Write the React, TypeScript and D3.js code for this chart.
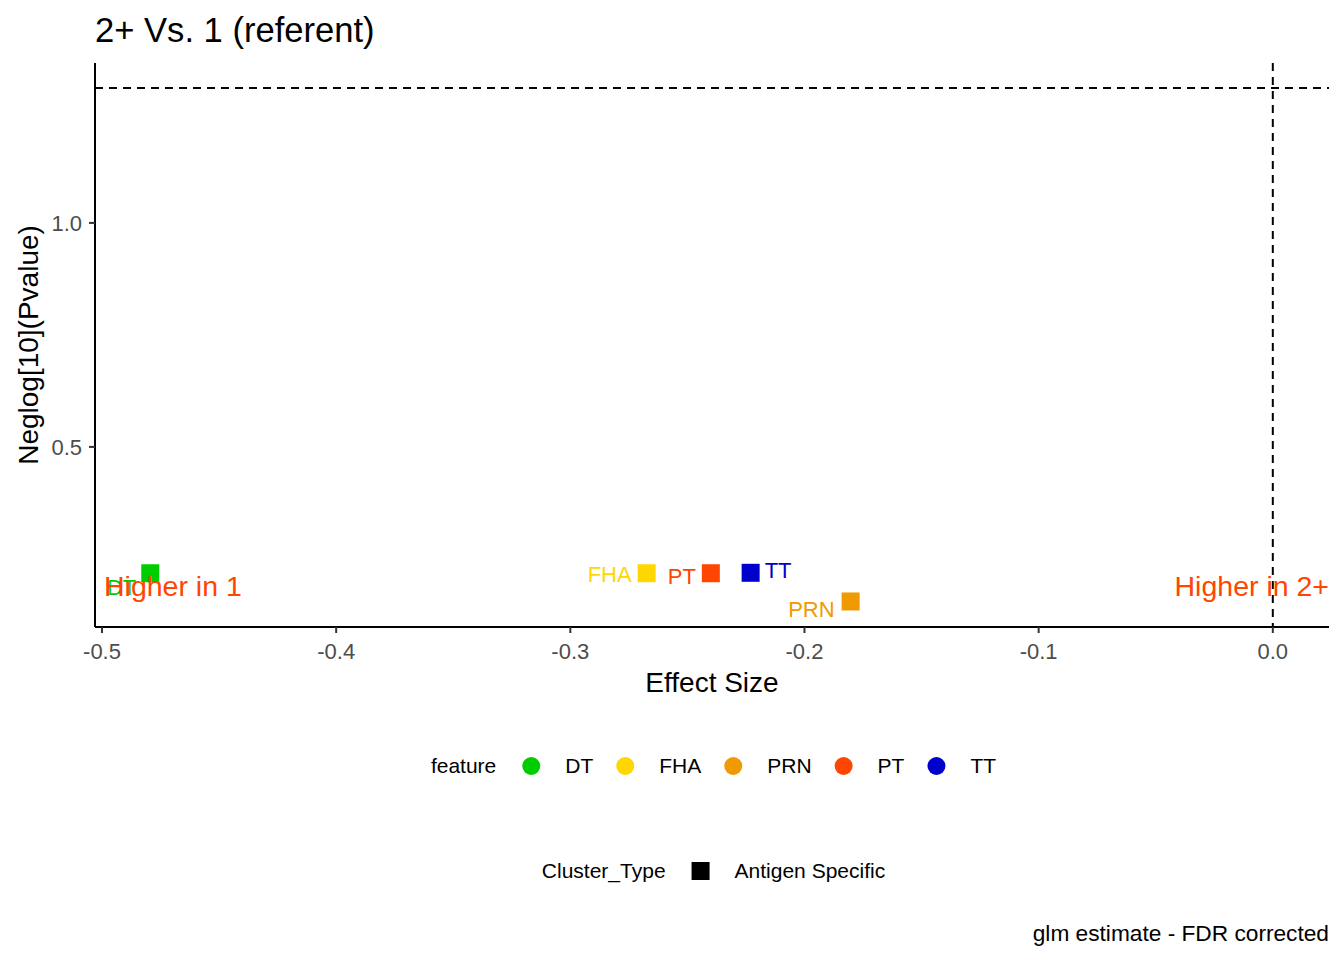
import { useEffect, useRef } from 'react';
import * as d3 from 'd3';

// chart values
const FEATURES = ['DT', 'FHA', 'PRN', 'PT', 'TT'];
const FEATURE_COLORS = ['#00CD00', '#FFD700', '#EE9A00', '#FF4500', '#0000CD'];
const EFFECT_SIZE = [-0.4794, -0.2674, -0.1803, -0.24, -0.223];
const NEGLOG_P = [0.218, 0.218, 0.155, 0.218, 0.219];
const CLUSTER_TYPES = ['Antigen Specific'];
const X_TICKS = [-0.5, -0.4, -0.3, -0.2, -0.1, 0.0];
const Y_TICKS = [0.5, 1.0];
const SIG_THRESHOLD = -Math.log10(0.05);

// repel-style label nudges (px) for each point label: [dx, dy, anchor]
const LABEL_NUDGE: [number, number, string][] = [
  [-14, 14, 'end'],
  [-15, 1, 'end'],
  [-16, 8, 'end'],
  [-15, 3, 'end'],
  [14, -2, 'start'],
];

const W = 1344;
const H = 960;
const FONT = '"Liberation Sans", Arial, sans-serif';

export default function App() {
  const svgRef = useRef<SVGSVGElement>(null);

  useEffect(() => {
    if (!svgRef.current) return;
    const svg = d3.select(svgRef.current);
    svg.selectAll('*').remove();

    const panel = { left: 95, right: 1329, top: 63, bottom: 627 };

    const x = d3.scaleLinear().domain([-0.503, 0.024]).range([panel.left, panel.right]);
    const y = d3.scaleLinear().domain([0.098, 1.357]).range([panel.bottom, panel.top]);

    // title
    svg
      .append('text')
      .attr('x', panel.left)
      .attr('y', 42)
      .style('font-size', '34.6px')
      .style('fill', '#000')
      .text('2+ Vs. 1 (referent)');

    // reference lines
    svg
      .append('line')
      .attr('x1', panel.left)
      .attr('x2', panel.right)
      .attr('y1', y(SIG_THRESHOLD))
      .attr('y2', y(SIG_THRESHOLD))
      .attr('stroke', '#000')
      .attr('stroke-width', 2)
      .attr('stroke-dasharray', '8,6');

    svg
      .append('line')
      .attr('x1', x(0))
      .attr('x2', x(0))
      .attr('y1', panel.top)
      .attr('y2', panel.bottom)
      .attr('stroke', '#000')
      .attr('stroke-width', 2)
      .attr('stroke-dasharray', '8,6');

    // x axis
    svg
      .append('line')
      .attr('x1', panel.left)
      .attr('x2', panel.right)
      .attr('y1', panel.bottom)
      .attr('y2', panel.bottom)
      .attr('stroke', '#000')
      .attr('stroke-width', 2);

    const xt = svg.append('g').selectAll('g').data(X_TICKS).enter().append('g');
    xt.append('line')
      .attr('x1', (d) => x(d))
      .attr('x2', (d) => x(d))
      .attr('y1', panel.bottom)
      .attr('y2', panel.bottom + 6)
      .attr('stroke', '#333')
      .attr('stroke-width', 2);
    xt.append('text')
      .attr('x', (d) => x(d))
      .attr('y', 659)
      .attr('text-anchor', 'middle')
      .style('font-size', '22px')
      .style('fill', '#4D4D4D')
      .text((d) => d3.format('.1f')(d).replace('−', '-'));

    svg
      .append('text')
      .attr('x', (panel.left + panel.right) / 2)
      .attr('y', 692)
      .attr('text-anchor', 'middle')
      .style('font-size', '28px')
      .style('fill', '#000')
      .text('Effect Size');

    // y axis
    svg
      .append('line')
      .attr('x1', panel.left)
      .attr('x2', panel.left)
      .attr('y1', panel.top)
      .attr('y2', panel.bottom)
      .attr('stroke', '#000')
      .attr('stroke-width', 2);

    const yt = svg.append('g').selectAll('g').data(Y_TICKS).enter().append('g');
    yt.append('line')
      .attr('x1', panel.left - 6)
      .attr('x2', panel.left)
      .attr('y1', (d) => y(d))
      .attr('y2', (d) => y(d))
      .attr('stroke', '#333')
      .attr('stroke-width', 2);
    yt.append('text')
      .attr('x', panel.left - 13)
      .attr('y', (d) => y(d))
      .attr('dy', '0.35em')
      .attr('text-anchor', 'end')
      .style('font-size', '22px')
      .style('fill', '#4D4D4D')
      .text((d) => d3.format('.1f')(d));

    svg
      .append('text')
      .attr('transform', `translate(38,${(panel.top + panel.bottom) / 2}) rotate(-90)`)
      .attr('text-anchor', 'middle')
      .style('font-size', '28px')
      .style('fill', '#000')
      .text('Neglog[10](Pvalue)');

    // points
    const pts = FEATURES.map((f, i) => ({
      feature: f,
      color: FEATURE_COLORS[i],
      x: EFFECT_SIZE[i],
      y: NEGLOG_P[i],
      nudge: LABEL_NUDGE[i],
    }));

    const size = 18;
    svg
      .append('g')
      .selectAll('rect')
      .data(pts)
      .enter()
      .append('rect')
      .attr('x', (d) => x(d.x) - size / 2)
      .attr('y', (d) => y(d.y) - size / 2)
      .attr('width', size)
      .attr('height', size)
      .attr('fill', (d) => d.color);

    svg
      .append('g')
      .selectAll('text')
      .data(pts)
      .enter()
      .append('text')
      .attr('x', (d) => x(d.x) + d.nudge[0])
      .attr('y', (d) => y(d.y) + d.nudge[1])
      .attr('dy', '0.35em')
      .attr('text-anchor', (d) => d.nudge[2])
      .style('font-size', '22px')
      .style('fill', (d) => d.color)
      .text((d) => d.feature);

    // direction annotations
    const annY = y(0.19);
    svg
      .append('text')
      .attr('x', panel.left + 9)
      .attr('y', annY)
      .attr('dy', '0.35em')
      .style('font-size', '28.5px')
      .style('fill', '#FF4500')
      .text('Higher in 1');
    svg
      .append('text')
      .attr('x', panel.right)
      .attr('y', annY)
      .attr('dy', '0.35em')
      .attr('text-anchor', 'end')
      .style('font-size', '28.5px')
      .style('fill', '#FF4500')
      .text('Higher in 2+');

    // legends
    const center = (panel.left + panel.right) / 2;

    const drawLegend = (
      cy: number,
      title: string,
      labels: string[],
      drawKey: (g: d3.Selection<SVGGElement, unknown, null, undefined>, i: number, cx: number) => void,
    ) => {
      const g = svg.append('g');
      const t = g
        .append('text')
        .attr('y', cy)
        .attr('dy', '0.35em')
        .style('font-size', '21px')
        .style('fill', '#000')
        .text(title);
      let cursor = (t.node() as SVGTextElement).getComputedTextLength();
      labels.forEach((lab, i) => {
        const kx = cursor + 35;
        drawKey(g, i, kx);
        const lt = g
          .append('text')
          .attr('x', kx + 34)
          .attr('y', cy)
          .attr('dy', '0.35em')
          .style('font-size', '21px')
          .style('fill', '#000')
          .text(lab);
        cursor = kx + 34 + (lt.node() as SVGTextElement).getComputedTextLength() - 3;
      });
      g.attr('transform', `translate(${center - cursor / 2},0)`);
    };

    drawLegend(766, 'feature', FEATURES, (g, i, cx) => {
      g.append('circle').attr('cx', cx).attr('cy', 766).attr('r', 9).attr('fill', FEATURE_COLORS[i]);
    });

    drawLegend(871, 'Cluster_Type', CLUSTER_TYPES, (g, _i, cx) => {
      g.append('rect')
        .attr('x', cx - 9)
        .attr('y', 871 - 9)
        .attr('width', 18)
        .attr('height', 18)
        .attr('fill', '#000');
    });

    // caption
    svg
      .append('text')
      .attr('x', panel.right)
      .attr('y', 941)
      .attr('text-anchor', 'end')
      .style('font-size', '22.7px')
      .style('fill', '#000')
      .text('glm estimate - FDR corrected');
  }, []);

  return (
    <svg
      ref={svgRef}
      width={W}
      height={H}
      style={{ position: 'absolute', left: 0, top: 0, background: '#fff', fontFamily: FONT }}
    />
  );
}
